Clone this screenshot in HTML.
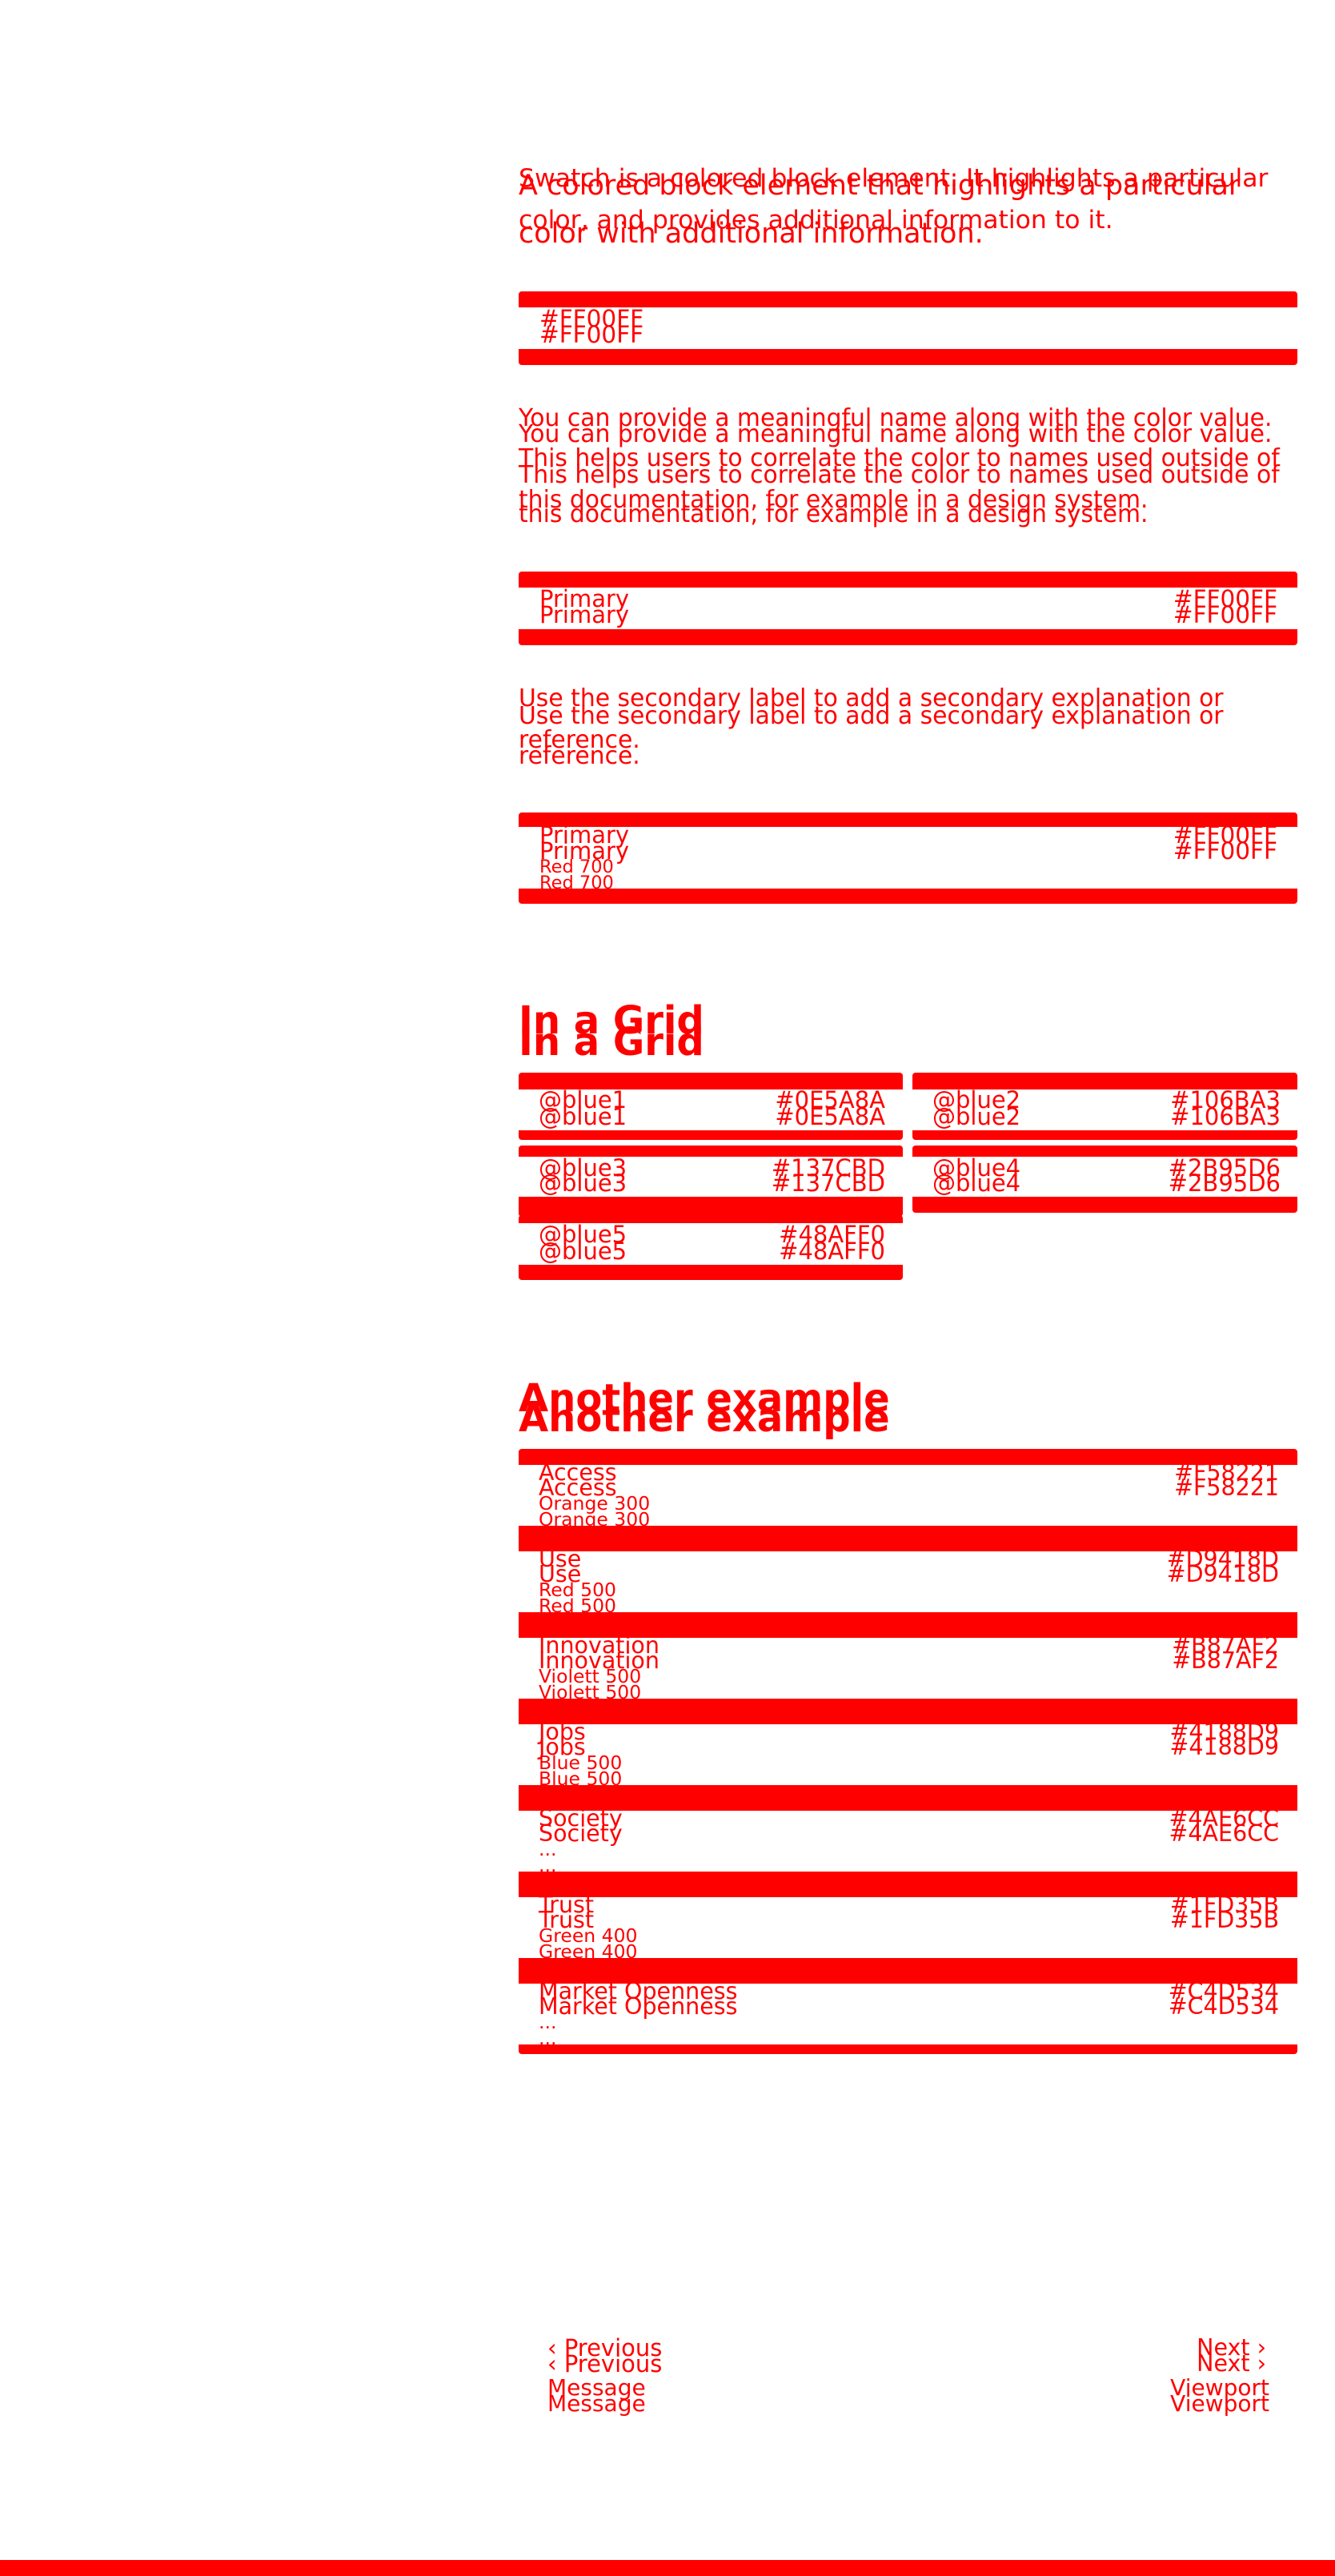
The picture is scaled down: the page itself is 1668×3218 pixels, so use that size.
<!DOCTYPE html>
<html><head><meta charset="utf-8"><style>
html,body{margin:0;padding:0;background:#fff;}
body{width:1668px;height:3218px;position:relative;overflow:hidden;font-family:"DejaVu Sans","Liberation Sans",sans-serif;color:#f00;}
.t{position:absolute;height:40px;line-height:40px;white-space:pre;font-size:28.5px;}
.p{font-size:29.8px;}
.r{text-align:right;}
.b{font-weight:bold;}
.box{position:absolute;background:#f00;border-radius:4px;}
.w{position:absolute;background:#fff;}
</style></head><body>

<!-- intro -->
<div class="t" style="left:648px;top:203px;font-size:31.5px">Swatch is a colored block element. It highlights a particular</div>
<div class="t" style="left:648px;top:255px;font-size:31.5px">color, and provides additional information to it.</div>
<div class="t" style="left:648px;top:212px;font-size:35px">A colored block element that highlights a particular</div>
<div class="t" style="left:648px;top:272px;font-size:35px">color with additional information.</div>

<!-- box1 -->
<div class="box" style="left:648px;top:364px;width:973px;height:92px"></div>
<div class="w" style="left:648px;top:384px;width:973px;height:52px"></div>
<div class="t" style="left:674px;top:378px;font-size:29.5px">#FF00FF</div>
<div class="t" style="left:674px;top:398px;font-size:29.5px">#FF00FF</div>

<!-- para2 -->
<div class="t p" style="left:648px;top:503px">You can provide a meaningful name along with the color value.</div>
<div class="t p" style="left:648px;top:523px">You can provide a meaningful name along with the color value.</div>
<div class="t p" style="left:648px;top:553px">This helps users to correlate the color to names used outside of</div>
<div class="t p" style="left:648px;top:574px">This helps users to correlate the color to names used outside of</div>
<div class="t p" style="left:648px;top:605px">this documentation, for example in a design system.</div>
<div class="t p" style="left:648px;top:623px">this documentation, for example in a design system.</div>

<!-- box2 -->
<div class="box" style="left:648px;top:714px;width:973px;height:92px"></div>
<div class="w" style="left:648px;top:734px;width:973px;height:52px"></div>
<div class="t" style="left:674px;top:728px;font-size:29px">Primary</div>
<div class="t" style="left:674px;top:748px;font-size:29px">Primary</div>
<div class="t r" style="right:72px;top:728px;font-size:29.5px">#FF00FF</div>
<div class="t r" style="right:72px;top:748px;font-size:29.5px">#FF00FF</div>

<!-- para3 -->
<div class="t p" style="left:648px;top:853px">Use the secondary label to add a secondary explanation or</div>
<div class="t p" style="left:648px;top:875px">Use the secondary label to add a secondary explanation or</div>
<div class="t p" style="left:648px;top:905px">reference.</div>
<div class="t p" style="left:648px;top:925px">reference.</div>

<!-- box3 -->
<div class="box" style="left:648px;top:1015px;width:973px;height:114px"></div>
<div class="w" style="left:648px;top:1033px;width:973px;height:77px"></div>
<div class="t" style="left:674px;top:1023px;font-size:29px">Primary</div>
<div class="t" style="left:674px;top:1043px;font-size:29px">Primary</div>
<div class="t r" style="right:72px;top:1023px;font-size:29.5px">#FF00FF</div>
<div class="t r" style="right:72px;top:1043px;font-size:29.5px">#FF00FF</div>
<div class="t" style="left:674px;top:1063px;font-size:22.5px">Red 700</div>
<div class="t" style="left:674px;top:1083px;font-size:22.5px">Red 700</div>

<!-- In a Grid -->
<div class="t b" style="left:648px;top:1250px;font-size:48px;height:50px;line-height:50px">In a Grid</div>
<div class="t b" style="left:648px;top:1277px;font-size:48px;height:50px;line-height:50px">In a Grid</div>

<div class="box" style="left:648px;top:1340px;width:480px;height:84px"></div>
<div class="w" style="left:648px;top:1361px;width:480px;height:51px"></div>
<div class="box" style="left:1140px;top:1340px;width:481px;height:84px"></div>
<div class="w" style="left:1140px;top:1361px;width:481px;height:51px"></div>
<div class="box" style="left:648px;top:1431px;width:480px;height:89px"></div>
<div class="w" style="left:648px;top:1445px;width:480px;height:50px"></div>
<div class="box" style="left:1140px;top:1431px;width:481px;height:84px"></div>
<div class="w" style="left:1140px;top:1445px;width:481px;height:50px"></div>
<div class="box" style="left:648px;top:1518px;width:480px;height:81px"></div>
<div class="w" style="left:648px;top:1528px;width:480px;height:52px"></div>

<div class="t" style="left:673px;top:1354px;font-size:29px">@blue1</div><div class="t" style="left:673px;top:1375px;font-size:29px">@blue1</div>
<div class="t r" style="right:562px;top:1354px;font-size:29px">#0E5A8A</div><div class="t r" style="right:562px;top:1375px;font-size:29px">#0E5A8A</div>
<div class="t" style="left:1165px;top:1354px;font-size:29px">@blue2</div><div class="t" style="left:1165px;top:1375px;font-size:29px">@blue2</div>
<div class="t r" style="right:68px;top:1354px;font-size:29px">#106BA3</div><div class="t r" style="right:68px;top:1375px;font-size:29px">#106BA3</div>
<div class="t" style="left:673px;top:1439px;font-size:29px">@blue3</div><div class="t" style="left:673px;top:1458px;font-size:29px">@blue3</div>
<div class="t r" style="right:562px;top:1439px;font-size:29px">#137CBD</div><div class="t r" style="right:562px;top:1458px;font-size:29px">#137CBD</div>
<div class="t" style="left:1165px;top:1439px;font-size:29px">@blue4</div><div class="t" style="left:1165px;top:1458px;font-size:29px">@blue4</div>
<div class="t r" style="right:68px;top:1439px;font-size:29px">#2B95D6</div><div class="t r" style="right:68px;top:1458px;font-size:29px">#2B95D6</div>
<div class="t" style="left:673px;top:1522px;font-size:29px">@blue5</div><div class="t" style="left:673px;top:1543px;font-size:29px">@blue5</div>
<div class="t r" style="right:562px;top:1522px;font-size:29px">#48AFF0</div><div class="t r" style="right:562px;top:1543px;font-size:29px">#48AFF0</div>

<!-- Another example -->
<div class="t b" style="left:648px;top:1722px;font-size:48px;height:50px;line-height:50px">Another example</div>
<div class="t b" style="left:648px;top:1747px;font-size:48px;height:50px;line-height:50px">Another example</div>

<!-- list boxes -->
<div class="box" style="left:648px;top:1810px;width:973px;height:756px"></div>
<div class="w" style="left:648px;top:1830px;width:973px;height:76px"></div>
<div class="w" style="left:648px;top:1938px;width:973px;height:76px"></div>
<div class="w" style="left:648px;top:2046px;width:973px;height:76px"></div>
<div class="w" style="left:648px;top:2154px;width:973px;height:76px"></div>
<div class="w" style="left:648px;top:2262px;width:973px;height:76px"></div>
<div class="w" style="left:648px;top:2370px;width:973px;height:76px"></div>
<div class="w" style="left:648px;top:2478px;width:973px;height:76px"></div>

<div class="t" style="left:673px;top:1820px">Access</div><div class="t" style="left:673px;top:1839px">Access</div>
<div class="t r" style="right:70px;top:1820px">#F58221</div><div class="t r" style="right:70px;top:1839px">#F58221</div>
<div class="t" style="left:673px;top:1858px;font-size:23.5px">Orange 300</div><div class="t" style="left:673px;top:1878px;font-size:23.5px">Orange 300</div>

<div class="t" style="left:673px;top:1928px">Use</div><div class="t" style="left:673px;top:1947px">Use</div>
<div class="t r" style="right:70px;top:1928px">#D9418D</div><div class="t r" style="right:70px;top:1947px">#D9418D</div>
<div class="t" style="left:673px;top:1966px;font-size:23.5px">Red 500</div><div class="t" style="left:673px;top:1986px;font-size:23.5px">Red 500</div>

<div class="t" style="left:673px;top:2036px">Innovation</div><div class="t" style="left:673px;top:2055px">Innovation</div>
<div class="t r" style="right:70px;top:2036px">#B87AF2</div><div class="t r" style="right:70px;top:2055px">#B87AF2</div>
<div class="t" style="left:673px;top:2074px;font-size:23.5px">Violett 500</div><div class="t" style="left:673px;top:2094px;font-size:23.5px">Violett 500</div>

<div class="t" style="left:673px;top:2144px">Jobs</div><div class="t" style="left:673px;top:2163px">Jobs</div>
<div class="t r" style="right:70px;top:2144px">#4188D9</div><div class="t r" style="right:70px;top:2163px">#4188D9</div>
<div class="t" style="left:673px;top:2182px;font-size:23.5px">Blue 500</div><div class="t" style="left:673px;top:2202px;font-size:23.5px">Blue 500</div>

<div class="t" style="left:673px;top:2252px">Society</div><div class="t" style="left:673px;top:2271px">Society</div>
<div class="t r" style="right:70px;top:2252px">#4AE6CC</div><div class="t r" style="right:70px;top:2271px">#4AE6CC</div>
<div class="t" style="left:673px;top:2290px;font-size:23.5px">...</div><div class="t" style="left:673px;top:2310px;font-size:23.5px">...</div>

<div class="t" style="left:673px;top:2360px">Trust</div><div class="t" style="left:673px;top:2379px">Trust</div>
<div class="t r" style="right:70px;top:2360px">#1FD35B</div><div class="t r" style="right:70px;top:2379px">#1FD35B</div>
<div class="t" style="left:673px;top:2398px;font-size:23.5px">Green 400</div><div class="t" style="left:673px;top:2418px;font-size:23.5px">Green 400</div>

<div class="t" style="left:673px;top:2468px">Market Openness</div><div class="t" style="left:673px;top:2487px">Market Openness</div>
<div class="t r" style="right:70px;top:2468px">#C4D534</div><div class="t r" style="right:70px;top:2487px">#C4D534</div>
<div class="t" style="left:673px;top:2506px;font-size:23.5px">...</div><div class="t" style="left:673px;top:2526px;font-size:23.5px">...</div>

<!-- footer -->
<div class="t" style="left:684px;top:2913px;font-size:29px">&#x2039; Previous</div>
<div class="t" style="left:684px;top:2933px;font-size:29px">&#x2039; Previous</div>
<div class="t" style="left:684px;top:2963px;font-size:28px">Message</div>
<div class="t" style="left:684px;top:2983px;font-size:28px">Message</div>
<div class="t r" style="right:86px;top:2913px;font-size:28.5px">Next &#x203A;</div>
<div class="t r" style="right:86px;top:2933px;font-size:28.5px">Next &#x203A;</div>
<div class="t r" style="right:82px;top:2963px;font-size:28px">Viewport</div>
<div class="t r" style="right:82px;top:2983px;font-size:28px">Viewport</div>

<div style="position:absolute;left:0;top:3198px;width:1668px;height:20px;background:#f00"></div>
</body></html>
